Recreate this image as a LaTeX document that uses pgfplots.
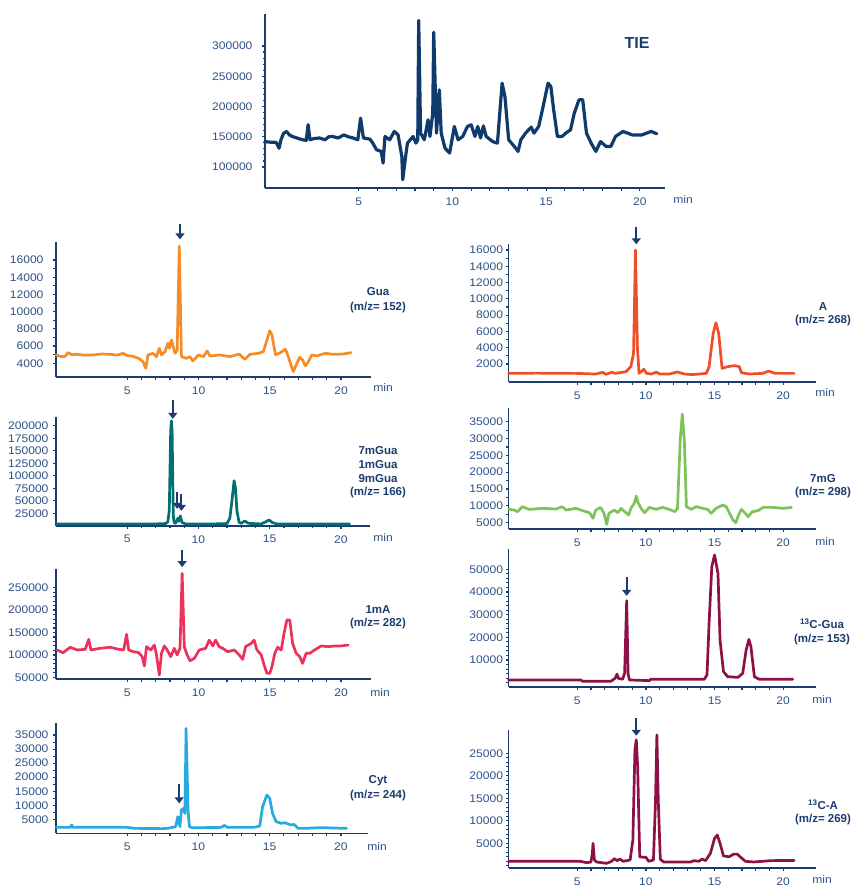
\documentclass[border=0pt]{standalone}
\usepackage{fontspec}
\setmainfont{Liberation Sans}
\newfontfamily\tickfont[FakeStretch=1.1]{Liberation Sans}
\usepackage{pgfplots}
\pgfplotsset{compat=1.18}
\usetikzlibrary{arrows.meta}

\definecolor{axnavy}{RGB}{27,60,110}
\definecolor{ticknavy}{RGB}{45,80,135}
\definecolor{tieblue}{RGB}{14,58,108}
\definecolor{guaorange}{RGB}{245,140,40}
\definecolor{mguateal}{RGB}{0,112,112}
\definecolor{mared}{RGB}{235,50,90}
\definecolor{cytblue}{RGB}{40,170,225}
\definecolor{ared}{RGB}{240,78,40}
\definecolor{mggreen}{RGB}{125,195,90}
\definecolor{cmaroon}{RGB}{140,18,70}

\pgfplotsset{
  chrom/.style={
    scale only axis, clip=false,
    anchor=south west,
    axis x line*=bottom, axis y line*=left,
    xmin=0, xtick={5,10,15,20}, minor x tick num=4, minor y tick num=4,
    tick align=outside,
    major tick length=3pt, minor tick length=2.5pt,
    every tick/.style={axnavy, line width=1.2pt},
    every minor tick/.style={axnavy, line width=1.1pt},
    axis line style={axnavy, line width=1.5pt, -},
    scaled y ticks=false,
    /pgf/number format/assume math mode=true,
    yticklabel style={/pgf/number format/fixed, /pgf/number format/1000 sep={}},
    tick label style={font=\tickfont\fontsize{11}{12}\selectfont, text=ticknavy},
    xticklabel style={yshift=-3pt},
    every axis plot/.append style={line width=2.7pt, line join=round, line cap=round, no marks},
  },
}
\tikzset{
  pk/.style={axnavy, line width=2.2pt, -{Triangle[length=6pt,width=9pt]}},
  lab/.style={text=axnavy, align=center, font=\bfseries\fontsize{11.5}{13.5}\selectfont},
  minlab/.style={text=ticknavy, font=\tickfont\fontsize{11}{12}\selectfont},
}

\begin{document}
\begin{tikzpicture}
\useasboundingbox (0,0) rectangle (853pt,-886pt);

% ---------------- total ion electropherogram ----------------
\begin{axis}[chrom, at={(265pt,-188pt)}, width=400pt, height=174pt,
  xmax=21.34, ymin=65350, ymax=352800,
  ytick={100000,150000,200000,250000,300000},
  yticklabel style={xshift=-6pt}]
\addplot[tieblue, line width=3.2pt] coordinates {
(0,142000)(0.3,141000)(0.6,140700)(0.75,131000)(0.85,145000)(1.0,156000)(1.15,158800)(1.3,153000)(1.5,150000)(1.7,148000)(2.0,145000)(2.2,144000)(2.3,170000)(2.4,145000)(2.6,147000)(2.9,148000)(3.2,145000)(3.4,150000)(3.6,150500)(3.9,148000)(4.2,153000)(4.45,150000)(4.7,148000)(4.95,145000)(5.1,180800)(5.25,148000)(5.6,146000)(5.75,139500)(5.95,128500)(6.2,125800)(6.3,106500)(6.4,150500)(6.65,145000)(6.9,158800)(7.1,153000)(7.3,117500)(7.35,79000)(7.5,117500)(7.6,139500)(7.9,150500)(8.05,139500)(8.15,145000)(8.2,342000)(8.3,156000)(8.5,145000)(8.7,178000)(8.8,150500)(8.95,189000)(9.0,322700)(9.15,156000)(9.3,227500)(9.4,156000)(9.6,131300)(9.85,123000)(10.1,167000)(10.3,145000)(10.55,150500)(10.8,167000)(11.0,169800)(11.2,150500)(11.35,167000)(11.5,148000)(11.65,168000)(11.8,150500)(12.15,142000)(12.4,139500)(12.65,238500)(12.8,216500)(13.0,145000)(13.3,134000)(13.5,125800)(13.65,145000)(13.9,156000)(14.2,166000)(14.35,156000)(14.6,167000)(14.8,194500)(15.1,238500)(15.25,233000)(15.4,194500)(15.6,150500)(15.85,150500)(16.05,156000)(16.3,161500)(16.5,189000)(16.75,211000)(16.95,211000)(17.15,156000)(17.4,139500)(17.65,125800)(17.9,142000)(18.2,134000)(18.45,134000)(18.7,150500)(19.1,158800)(19.6,153000)(20.1,153000)(20.6,158800)(20.9,155000)};
\end{axis}
\node[text=axnavy, font=\bfseries\fontsize{16}{18}\selectfont] at (637pt,-43pt) {TIE};
\node[minlab] at (683pt,-200pt) {min};

% ---------------- Gua ----------------
\begin{axis}[chrom, at={(56pt,-377pt)}, width=315pt, height=135pt,
  xmax=22.1, ymin=2408, ymax=18092,
  ytick={4000,6000,8000,10000,12000,14000,16000}, minor y tick num=1,
  yticklabel style={xshift=-6pt}]
\addplot[guaorange] coordinates {
(0,4970)(0.3,4800)(0.6,4770)(0.87,5240)(1.1,5000)(1.45,5040)(2.0,4950)(2.6,4970)(3.2,5080)(3.8,5040)(4.3,4950)(4.7,5160)(5.0,4900)(5.3,4850)(5.8,4580)(6.1,4190)(6.3,3420)(6.45,4970)(6.8,5160)(7.05,4770)(7.25,5740)(7.4,4970)(7.65,5350)(7.85,6320)(7.95,5740)(8.1,6710)(8.35,5160)(8.5,5550)(8.65,17620)(8.8,4770)(9.15,4580)(9.4,4770)(9.6,4270)(10.0,4970)(10.35,4770)(10.6,5430)(10.8,4850)(11.5,4970)(12.2,4770)(12.85,5080)(13.25,4460)(13.6,5040)(14.2,5160)(14.55,5350)(14.8,6710)(15.0,7790)(15.15,7290)(15.4,4970)(15.75,5240)(16.1,5630)(16.3,4770)(16.45,4000)(16.65,3030)(16.9,4000)(17.1,4700)(17.3,4390)(17.5,3690)(17.7,4190)(17.95,4970)(18.3,4850)(18.9,5160)(19.45,5040)(20.15,5080)(20.7,5240)};
\draw[pk] (axis cs:8.7,20190) -- (axis cs:8.7,18400);
\end{axis}
\node[lab, font=\bfseries\fontsize{11.5}{15}\selectfont] at (378pt,-300.5pt) {Gua\\(m/z= 152)};
\node[minlab] at (383pt,-388pt) {min};

% ---------------- 7mGua / 1mGua / 9mGua ----------------
\begin{axis}[chrom, at={(56pt,-525.8pt)}, width=314pt, height=108.8pt,
  xmax=22.04, ymin=0, ymax=217600,
  ytick={25000,50000,75000,100000,125000,150000,175000,200000}, minor y tick num=0,
  yticklabel style={xshift=-1pt}]
\addplot[mguateal] coordinates {
(0,3700)(1,3900)(2,3700)(3,3800)(4,3700)(5,3900)(6,3700)(7,3800)(7.7,4500)(7.85,8000)(7.95,30000)(8.05,190000)(8.1,210000)(8.15,190000)(8.23,20000)(8.3,6000)(8.4,5000)(8.55,15000)(8.62,9000)(8.72,19700)(8.85,6400)(9.1,3700)(10,3800)(11,3700)(12.0,4500)(12.2,15000)(12.35,50000)(12.5,90200)(12.6,75000)(12.7,30000)(12.85,7000)(13.0,5000)(13.25,9700)(13.5,5000)(14.4,3700)(14.75,8400)(14.95,11700)(15.2,6400)(15.5,3700)(17,3700)(18.5,3800)(20.6,3700)};
\draw[pk] (axis cs:8.2,251600) -- (axis cs:8.2,214000);
\draw[pk, line width=1.8pt] (axis cs:8.5,67600) -- (axis cs:8.5,34000);
\draw[pk] (axis cs:8.8,63600) -- (axis cs:8.8,30000);
\end{axis}
\node[lab, font=\bfseries\fontsize{11.5}{13.7}\selectfont] at (378pt,-472.5pt) {7mGua\\1mGua\\9mGua\\(m/z= 166)};
\node[minlab] at (383pt,-538pt) {min};

% ---------------- 1mA ----------------
\begin{axis}[chrom, at={(56pt,-679pt)}, width=315pt, height=110pt,
  xmax=22.1, ymin=46200, ymax=291700,
  ytick={50000,100000,150000,200000,250000},
  yticklabel style={xshift=-1pt}]
\addplot[mared] coordinates {
(0.07,111000)(0.5,105000)(1.0,117000)(1.5,111000)(2.05,112500)(2.3,134800)(2.45,111000)(3.1,114700)(3.8,117000)(4.4,112500)(4.75,111000)(4.95,146000)(5.1,111000)(5.45,107000)(5.8,105000)(6.05,96000)(6.2,75300)(6.35,118400)(6.65,111000)(6.9,122000)(7.05,100000)(7.25,55200)(7.4,103500)(7.6,120000)(7.8,111000)(8.05,96000)(8.3,114700)(8.5,100000)(8.7,114700)(8.85,282000)(9.0,118400)(9.2,100000)(9.4,87000)(9.7,92000)(10.05,111000)(10.5,114700)(10.75,133000)(11.0,120000)(11.2,133000)(11.45,118400)(11.7,114700)(12.05,107000)(12.5,111000)(12.85,100000)(13.1,90000)(13.3,118400)(13.7,125800)(13.9,133000)(14.1,111000)(14.4,100000)(14.6,77500)(14.8,59000)(15.0,59000)(15.15,73800)(15.35,103500)(15.55,117000)(15.8,111000)(16.0,148000)(16.2,178000)(16.4,178000)(16.6,125800)(16.85,103500)(17.1,96000)(17.3,81000)(17.55,103500)(17.8,103500)(18.15,111000)(18.6,120000)(19.1,118400)(19.55,120000)(20.0,120000)(20.5,122000)};
\draw[pk] (axis cs:8.85,334100) -- (axis cs:8.85,296000);
\end{axis}
\node[lab, font=\bfseries\fontsize{11.5}{12.5}\selectfont] at (378pt,-617pt) {1mA\\(m/z= 282)};
\node[minlab] at (380pt,-693pt) {min};

% ---------------- Cyt ----------------
\begin{axis}[chrom, at={(56pt,-833.4pt)}, width=312pt, height=110.4pt,
  xmax=21.9, ymin=0, ymax=39290,
  ytick={5000,10000,15000,20000,25000,30000,35000}, minor y tick num=1,
  yticklabel style={xshift=-1pt}]
\addplot[cytblue] coordinates {
(0,2150)(1.0,2150)(1.1,3000)(1.2,2150)(3,2200)(5,2150)(5.5,1800)(7.5,1700)(7.8,1800)(8.4,2400)(8.55,5950)(8.7,2400)(8.8,8300)(8.95,8900)(9.05,7100)(9.13,37400)(9.27,8300)(9.36,2400)(9.6,2000)(11.6,2150)(11.8,2850)(12.05,2150)(13.9,2150)(14.3,2600)(14.5,9500)(14.8,13650)(15.0,12500)(15.2,7100)(15.45,4200)(15.8,3600)(16.05,3800)(16.5,3000)(16.7,3200)(17.0,1800)(17.45,1800)(18.6,2050)(20.4,1800)};
\draw[pk] (axis cs:8.65,17560) -- (axis cs:8.65,10700);
\end{axis}
\node[lab, font=\bfseries\fontsize{11.5}{15}\selectfont] at (378pt,-788.5pt) {Cyt\\(m/z= 244)};
\node[minlab] at (377pt,-847pt) {min};

% ---------------- A ----------------
\begin{axis}[chrom, at={(508.6pt,-382pt)}, width=307pt, height=138pt,
  xmax=22.36, ymin=-210, ymax=16737,
  ytick={2000,4000,6000,8000,10000,12000,14000,16000}, minor y tick num=1,
  yticklabel style={xshift=1pt}]
\addplot[ared] coordinates {
(0,850)(2,880)(4.9,850)(6.35,770)(6.85,980)(7.1,730)(7.5,980)(7.8,850)(8.55,1060)(8.9,1670)(9.1,3300)(9.24,16000)(9.38,4130)(9.5,850)(9.85,1350)(10.05,850)(10.4,770)(10.75,1000)(11.0,770)(11.7,770)(12.3,1020)(12.8,770)(13.4,700)(14.4,850)(14.6,1670)(14.9,5760)(15.1,7070)(15.3,5760)(15.55,1470)(15.95,1670)(16.45,1800)(16.8,1670)(16.95,940)(17.55,770)(18.5,850)(18.95,1140)(19.4,850)(20.8,850)};
\draw[pk] (axis cs:9.3,18820) -- (axis cs:9.3,16700);
\end{axis}
\node[lab, font=\bfseries\fontsize{11.5}{13}\selectfont] at (823pt,-314pt) {A\\(m/z= 268)};
\node[minlab] at (825pt,-393pt) {min};

% ---------------- 7mG ----------------
\begin{axis}[chrom, at={(508.6pt,-529pt)}, width=307pt, height=121pt,
  xmax=22.36, ymin=3129, ymax=39069,
  ytick={5000,10000,15000,20000,25000,30000,35000}, minor y tick num=1,
  yticklabel style={xshift=1pt}]
\addplot[mggreen] coordinates {
(0,9000)(0.4,8760)(0.65,8270)(1.0,9750)(1.5,8960)(2.5,9260)(3.45,9060)(3.9,9750)(4.2,8760)(4.9,9260)(5.4,8560)(5.9,7970)(6.15,6290)(6.35,8760)(6.7,9550)(6.95,7770)(7.15,4500)(7.3,7770)(7.7,8760)(7.95,7970)(8.2,9260)(8.45,8270)(8.75,7280)(8.9,9260)(9.15,10740)(9.3,12920)(9.4,11240)(9.65,9260)(9.9,7970)(10.25,9550)(10.75,8960)(11.2,9550)(11.7,8960)(12.1,8270)(12.3,9260)(12.5,29550)(12.65,37270)(12.8,29550)(12.95,9750)(13.3,8960)(13.65,9750)(14.15,9260)(14.5,8960)(14.75,7770)(15.1,9260)(15.6,10250)(15.85,9750)(16.1,7770)(16.35,5800)(16.55,5000)(16.7,6780)(16.95,8960)(17.2,7970)(17.45,6780)(17.75,8270)(18.15,8560)(18.55,9550)(19.25,9550)(20.0,9260)(20.6,9550)};
\end{axis}
\node[lab, font=\bfseries\fontsize{11.5}{13.3}\selectfont] at (823pt,-486pt) {7mG\\(m/z= 298)};
\node[minlab] at (825pt,-542pt) {min};

% ---------------- 13C-Gua ----------------
\begin{axis}[chrom, at={(508.6pt,-687pt)}, width=307pt, height=138pt,
  xmax=22.36, ymin=-1907, ymax=58952,
  ytick={0,10000,20000,30000,40000,50000},
  yticklabels={,10000,20000,30000,40000,50000},
  yticklabel style={xshift=1pt}]
\addplot[cmaroon] coordinates {
(0,1200)(5.25,1200)(5.4,600)(7.45,600)(7.75,1900)(7.9,3800)(8.0,1900)(8.3,1500)(8.45,4100)(8.6,36200)(8.7,4100)(8.8,1200)(10.25,900)(10.35,1500)(14.25,1500)(14.45,3400)(14.6,26000)(14.8,51200)(15.0,56300)(15.25,48200)(15.4,18800)(15.65,4900)(15.95,2650)(16.7,2350)(17.05,4100)(17.3,14400)(17.5,19100)(17.65,15900)(17.9,2650)(18.25,1500)(20.7,1500)};
\draw[pk] (axis cs:8.6,46560) -- (axis cs:8.6,38300);
\end{axis}
\node[lab, font=\bfseries\fontsize{11.5}{14}\selectfont] at (822pt,-632pt) {\textsuperscript{13}C-Gua\\(m/z= 153)};
\node[minlab] at (822pt,-700pt) {min};

% ---------------- 13C-A ----------------
\begin{axis}[chrom, at={(508.6pt,-868pt)}, width=307pt, height=138pt,
  xmax=22.36, ymin=-488, ymax=30177,
  ytick={0,5000,10000,15000,20000,25000},
  yticklabels={,5000,10000,15000,20000,25000},
  yticklabel style={xshift=1pt}]
\addplot[cmaroon] coordinates {
(0,1000)(5.2,1000)(5.7,700)(6.0,850)(6.1,2800)(6.15,5000)(6.25,1300)(6.4,850)(7.15,550)(7.5,1000)(7.7,1600)(7.9,1150)(8.1,1500)(8.35,1000)(8.85,1300)(9.05,5700)(9.2,25700)(9.3,28000)(9.4,22000)(9.55,2000)(9.85,1900)(10.0,1900)(10.2,1000)(10.55,1300)(10.7,14600)(10.8,29100)(10.9,14600)(11.05,1450)(11.3,850)(13.25,850)(13.5,1150)(13.85,1000)(14.1,1500)(14.35,1150)(14.7,2800)(15.0,6100)(15.2,6850)(15.4,5000)(15.65,2200)(16.05,2000)(16.4,2600)(16.65,2600)(16.9,1900)(17.25,1000)(17.85,850)(19.1,1150)(20.8,1200)};
\draw[pk] (axis cs:9.3,32840) -- (axis cs:9.3,28900);
\end{axis}
\node[lab, font=\bfseries\fontsize{11.5}{13.3}\selectfont] at (823pt,-812.5pt) {\textsuperscript{13}C-A\\(m/z= 269)};
\node[minlab] at (822pt,-880pt) {min};
\end{tikzpicture}
\end{document}
